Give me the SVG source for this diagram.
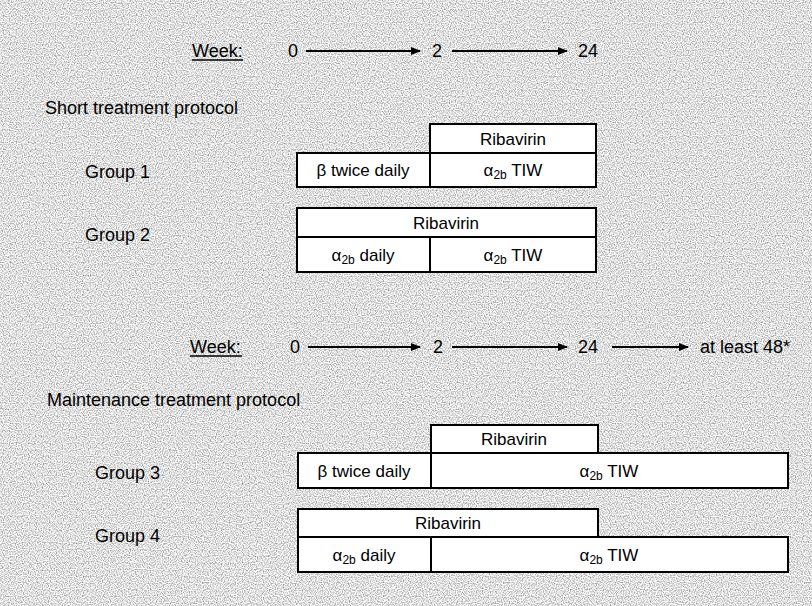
<svg xmlns="http://www.w3.org/2000/svg" width="812" height="606" viewBox="0 0 812 606">
<style>
  .lbl { font-family: "Liberation Sans", Arial, sans-serif; font-size: 18px; fill: #000; }
  .num { font-family: "Liberation Sans", Arial, sans-serif; font-size: 18px; fill: #000; text-anchor: middle; }
  .box { fill: #fff; stroke: #000; stroke-width: 2; }
  .div { stroke: #000; stroke-width: 2; }
  .bt { font-family: "Liberation Sans", Arial, sans-serif; font-size: 17px; fill: #000; text-anchor: middle; }
  .sub { font-size: 12px; }
  .arr { stroke: #000; stroke-width: 2; fill: none; marker-end: url(#ah); }
  .ul { stroke: #000; stroke-width: 1.5; }
</style>
<defs>
  <marker id="ah" markerWidth="10" markerHeight="8" refX="9" refY="4" orient="auto" markerUnits="userSpaceOnUse">
    <path d="M0,0 L10,4 L0,8 Z" fill="#000"/>
  </marker>
  <filter id="grain" x="0" y="0" width="100%" height="100%">
    <feTurbulence type="fractalNoise" baseFrequency="0.85" numOctaves="1" seed="7" result="n"/>
    <feColorMatrix in="n" type="matrix" values="0 0 0 0 0  0 0 0 0 0  0 0 0 0 0  1.6 0 0 0 -0.62" result="a"/>
    <feComposite in="SourceGraphic" in2="a" operator="in"/>
  </filter>
</defs>
<rect id="background" x="0" y="0" width="812" height="606" fill="#ffffff"/>
<rect id="grain-layer" x="0" y="0" width="812" height="606" fill="#555" filter="url(#grain)"/>

<g id="timeline-short">
  <text class="lbl" x="192" y="57">Week:</text>
  <line class="ul" x1="192" y1="60" x2="243" y2="60"/>
  <text class="num" x="293" y="57">0</text>
  <text class="num" x="437" y="57">2</text>
  <text class="num" x="588" y="57">24</text>
</g>
<text id="title-short" class="lbl" x="45" y="114">Short treatment protocol</text>

<g id="group1">
  <text class="lbl" x="85" y="178">Group 1</text>
  <rect class="box" x="430" y="124" width="166" height="29"/>
  <text class="bt" x="513" y="145">Ribavirin</text>
  <rect class="box" x="297" y="153" width="299" height="34"/>
  <line class="div" x1="430" y1="153" x2="430" y2="187"/>
  <text class="bt" x="363" y="176">β twice daily</text>
  <text class="bt" x="513" y="176">α<tspan class="sub" dy="3">2b</tspan><tspan dy="-3"> TIW</tspan></text>
</g>

<g id="group2">
  <text class="lbl" x="85" y="241">Group 2</text>
  <rect class="box" x="297" y="208" width="299" height="29"/>
  <text class="bt" x="446" y="229">Ribavirin</text>
  <rect class="box" x="297" y="237" width="299" height="35"/>
  <line class="div" x1="430" y1="237" x2="430" y2="272"/>
  <text class="bt" x="363" y="261">α<tspan class="sub" dy="3">2b</tspan><tspan dy="-3"> daily</tspan></text>
  <text class="bt" x="513" y="261">α<tspan class="sub" dy="3">2b</tspan><tspan dy="-3"> TIW</tspan></text>
</g>

<g id="timeline-maint">
  <text class="lbl" x="190" y="353">Week:</text>
  <line class="ul" x1="190" y1="356" x2="242" y2="356"/>
  <text class="num" x="295" y="353">0</text>
  <text class="num" x="438" y="353">2</text>
  <text class="num" x="588" y="353">24</text>
  <text class="lbl" x="700" y="353">at least 48*</text>
</g>
<text id="title-maint" class="lbl" x="47" y="406">Maintenance treatment protocol</text>

<g id="group3">
  <text class="lbl" x="95" y="479">Group 3</text>
  <rect class="box" x="431" y="425" width="167" height="28"/>
  <text class="bt" x="514" y="445">Ribavirin</text>
  <rect class="box" x="298" y="453" width="490" height="35"/>
  <line class="div" x1="431" y1="453" x2="431" y2="488"/>
  <text class="bt" x="364" y="477">β twice daily</text>
  <text class="bt" x="609" y="477">α<tspan class="sub" dy="3">2b</tspan><tspan dy="-3"> TIW</tspan></text>
</g>

<g id="group4">
  <text class="lbl" x="95" y="542">Group 4</text>
  <rect class="box" x="298" y="509" width="300" height="28"/>
  <text class="bt" x="448" y="529">Ribavirin</text>
  <rect class="box" x="298" y="537" width="490" height="35"/>
  <line class="div" x1="431" y1="537" x2="431" y2="572"/>
  <text class="bt" x="364" y="561">α<tspan class="sub" dy="3">2b</tspan><tspan dy="-3"> daily</tspan></text>
  <text class="bt" x="609" y="561">α<tspan class="sub" dy="3">2b</tspan><tspan dy="-3"> TIW</tspan></text>
</g>

<g id="connectors">
  <line class="arr" x1="306" y1="51" x2="420" y2="51"/>
  <line class="arr" x1="452" y1="51" x2="567" y2="51"/>
  <line class="arr" x1="308" y1="347" x2="420" y2="347"/>
  <line class="arr" x1="452" y1="347" x2="567" y2="347"/>
  <line class="arr" x1="612" y1="347" x2="688" y2="347"/>
</g>
</svg>
